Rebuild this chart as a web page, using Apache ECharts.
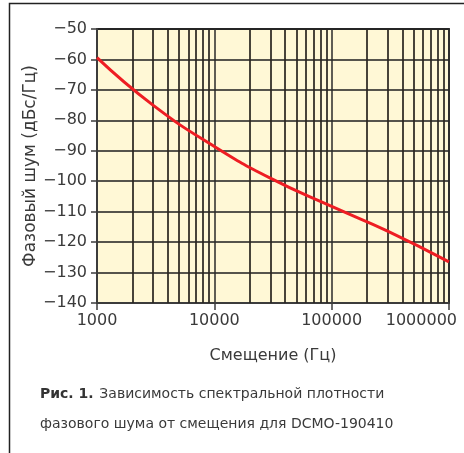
<!DOCTYPE html>
<html>
<head>
<meta charset="utf-8">
<script src="https://cdn.jsdelivr.net/npm/echarts@6/dist/echarts.min.js"></script>
<style>
  html, body { margin: 0; padding: 0; background: #fff; }
  #chart { width: 464px; height: 453px; }
</style>
</head>
<body>
<div id="chart"></div>
<script>
// Offset frequency (Hz) and phase noise (dBc/Hz) of the DCMO-190410
const offsetHz = [1000, 3000, 10000, 30000, 100000, 300000, 1000000];
const phaseNoise = [-59.4, -75, -88.6, -99, -108.3, -116.4, -126.5];

// Intermediate log-grid positions (2..9 within each decade)
const minorGridHz = [];
[1000, 10000, 100000].forEach(function (d) {
  for (let k = 2; k <= 9; k++) minorGridHz.push(d * k);
});

const yMin = -140, yMax = -50, yStep = 10;
const xMin = 1000, xMax = 1000000;

const FONT = 'DejaVu Sans';
const TEXT = '#3a3a3a';

const chart = echarts.init(document.getElementById('chart'), null, { renderer: 'canvas' });

chart.setOption({
  animation: false,
  backgroundColor: '#ffffff',
  title: {
    left: 35,
    top: 374,
    text: '{b|Рис. 1.} {n|Зависимость спектральной плотности}\n{n|фазового шума от смещения для DCMO-190410}',
    textStyle: {
      fontFamily: FONT,
      fontWeight: 'normal',
      lineHeight: 30,
      rich: {
        b: { fontFamily: FONT, fontSize: 14, fontWeight: 'bold', color: '#333', lineHeight: 30 },
        n: { fontFamily: FONT, fontSize: 14, fontWeight: 'normal', color: '#3a3a3a', lineHeight: 30 }
      }
    }
  },
  grid: {
    left: 97, right: 15, top: 29, bottom: 150,
    outerBoundsMode: 'none',
    show: true,
    backgroundColor: '#FFF8D6',
    borderColor: '#3c3c3c',
    borderWidth: 2,
    containLabel: false
  },
  xAxis: {
    type: 'log',
    logBase: 10,
    min: xMin,
    max: xMax,
    name: 'Смещение (Гц)',
    nameLocation: 'middle',
    nameGap: 45,
    nameTextStyle: { fontFamily: FONT, fontSize: 16, color: TEXT },
    axisLine: { show: true, lineStyle: { color: '#3c3c3c', width: 2 } },
    axisTick: { show: true, length: 7, lineStyle: { color: '#3c3c3c', width: 1.5 } },
    axisLabel: {
      fontFamily: FONT, fontSize: 16, color: TEXT, margin: 10,
      alignMaxLabel: 'right',
      formatter: function (v) {
        const s = String(Math.round(v));
        return Math.round(v) === xMax ? '{last|' + s + '}' : s;
      },
      rich: {
        last: { fontFamily: FONT, fontSize: 16, color: TEXT, padding: [0, -8, 0, 8] }
      }
    },
    splitLine: { show: true, lineStyle: { color: '#2a2a2a', width: 1.5 } }
  },
  yAxis: {
    type: 'value',
    min: yMin,
    max: yMax,
    interval: yStep,
    name: 'Фазовый шум (дБс/Гц)',
    nameLocation: 'middle',
    nameGap: 58,
    nameMoveOverlap: false,
    nameTextStyle: { fontFamily: FONT, fontSize: 17, color: TEXT },
    axisLine: { show: true, lineStyle: { color: '#3c3c3c', width: 2 } },
    axisTick: { show: true, length: 6, lineStyle: { color: '#3c3c3c', width: 1.5 } },
    axisLabel: {
      fontFamily: FONT, fontSize: 16, color: TEXT, margin: 10,
      formatter: function (v) { return String(v).replace('-', '\u2212'); }
    },
    splitLine: { show: true, lineStyle: { color: '#1e1e1e', width: 1.5 } }
  },
  graphic: [
    {
      type: 'polyline',
      silent: true,
      shape: { points: [[9.5, 453], [9.5, 3.5], [464, 3.5]] },
      style: { stroke: '#222', lineWidth: 1.5, fill: null }
    }
  ],
  series: [
    {
      type: 'line',
      data: offsetHz.map(function (f, i) { return [f, phaseNoise[i]]; }),
      smooth: 0.5,
      symbol: 'none',
      lineStyle: { color: '#EE1D23', width: 3 },
      z: 5,
      markLine: {
        silent: true,
        symbol: ['none', 'none'],
        label: { show: false },
        animation: false,
        lineStyle: { color: 'rgba(40,36,30,0.85)', width: 2, type: 'solid' },
        data: minorGridHz.map(function (f) { return { xAxis: f }; }),
        z: 1
      }
    }
  ]
});
</script>
</body>
</html>
